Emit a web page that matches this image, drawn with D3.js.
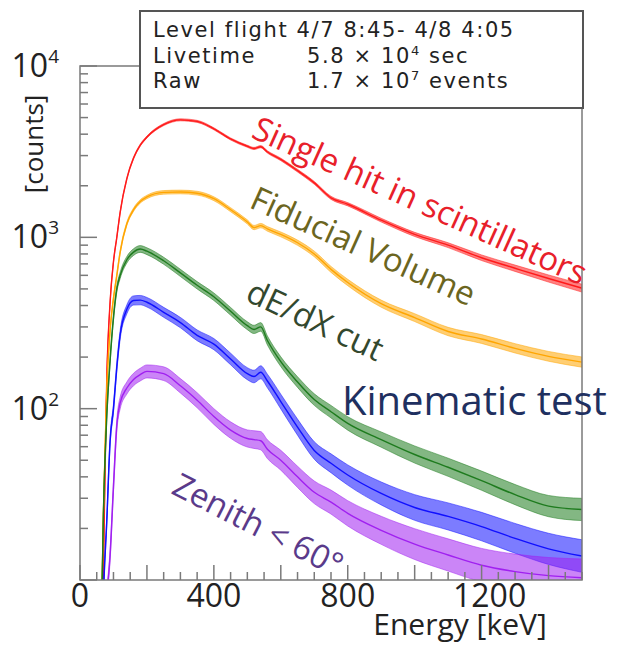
<!DOCTYPE html>
<html>
<head>
<meta charset="utf-8">
<script src="https://cdn.jsdelivr.net/npm/d3@7"></script>
<style>
body { margin: 0; background: #fff; }
svg text { font-family: "Open Sans", sans-serif; }
</style>
</head>
<body>
<div id="chart"></div>
<script>
// energy bins [keV] shared by all spectra
var energies = [60, 70, 80, 90, 100, 110, 120, 140, 160, 180, 200, 250, 300, 350, 400, 450, 500, 520, 540, 560, 600, 650, 700, 750, 800, 900, 1000, 1100, 1200, 1300, 1400, 1500];

// counts
var singleHit = [2, 12, 150, 420, 720, 1000, 1400, 2200, 2900, 3450, 3850, 4550, 4850, 4750, 4300, 3750, 3400, 3300, 3380, 3150, 2850, 2450, 2080, 1700, 1560, 1260, 1040, 900, 760, 660, 575, 505];
var fiducial = [2, 25, 130, 288, 440, 600, 820, 1200, 1450, 1620, 1720, 1830, 1840, 1810, 1680, 1450, 1230, 1140, 1170, 1120, 1040, 930, 800, 650, 545, 410, 340, 282, 255, 225, 202, 187];
var dedxCut = [2, 25, 90, 192, 340, 500, 600, 740, 820, 855, 830, 730, 620, 525, 450, 370, 305, 290, 300, 250, 188, 143, 113, 96, 82, 66, 54, 45.5, 38, 31.5, 27, 25.8];
var kinematic = [1, 8, 22, 65, 100, 175, 270, 380, 428, 430, 418, 365, 318, 268, 238, 195, 160, 154, 163, 145, 110, 78, 57, 48, 41, 32, 26.5, 23.5, 20.5, 17.5, 15.2, 13.8];
var zenith = [0.5, 4, 8, 14, 35, 80, 108, 132, 148, 158, 165, 160, 136, 112, 90, 75, 67, 66, 65, 58, 50, 40, 32.5, 28.5, 24.5, 19.5, 16.2, 14, 12.2, 11.2, 10.6, 10.3];

// half width of the noisy band (decades) at a few energies
var noiseE = [0, 500, 1000, 1500];
var noiseSingle = [0.006, 0.006, 0.012, 0.023];
var noiseFid = [0.009, 0.012, 0.023, 0.03];
var noiseDedx = [0.018, 0.023, 0.05, 0.065];
var noiseKin = [0.023, 0.035, 0.075, 0.095];
var noiseZen = [0.03, 0.05, 0.09, 0.11];

var xTickLabels = [0, 400, 800, 1200];
var yTickLabels = [100, 1000, 10000];

var infoLines = [
    ["Level flight 4/7 8:45- 4/8 4:05"],
    ["Livetime", "5.8 \u00d7 10", "4", " sec"],
    ["Raw", "1.7 \u00d7 10", "7", " events"]
];

var series = [
    {name: "Single hit in scintillators", values: singleHit, noise: noiseSingle, color: "#ff1a1a"},
    {name: "Fiducial Volume", values: fiducial, noise: noiseFid, color: "#ffa500"},
    {name: "dE/dX cut", values: dedxCut, noise: noiseDedx, color: "#1e7b1e"},
    {name: "Kinematic test", values: kinematic, noise: noiseKin, color: "#1010ff"},
    {name: "Zenith < 60\u00b0", values: zenith, noise: noiseZen, color: "#a020f0"}
];

var width = 619, height = 646;
var margin = {top: 66, right: 37, bottom: 66, left: 80};
var plotW = width - margin.left - margin.right;
var plotH = height - margin.top - margin.bottom;

var svg = d3.select("#chart").append("svg")
    .attr("width", width)
    .attr("height", height);

var xScale = d3.scaleLinear().domain([0, 1500]).range([margin.left, margin.left + plotW]);
var yScale = d3.scaleLog().domain([10, 10000]).range([margin.top + plotH, margin.top]);

svg.append("clipPath").attr("id", "plotClip")
  .append("rect")
    .attr("x", margin.left).attr("y", margin.top)
    .attr("width", plotW).attr("height", plotH);

var plot = svg.append("g").attr("clip-path", "url(#plotClip)");

// draw each spectrum: a faint noisy band plus the centre line
series.forEach(function(s) {
    var noiseScale = d3.scaleLinear().domain(noiseE).range(s.noise);
    var pts = energies.map(function(e, i) {
        var n = Math.pow(10, noiseScale(e));
        return {e: e, v: s.values[i], lo: s.values[i] / n, hi: s.values[i] * n};
    });
    var area = d3.area()
        .x(function(d) { return xScale(d.e); })
        .y0(function(d) { return yScale(d.lo); })
        .y1(function(d) { return yScale(d.hi); })
        .curve(d3.curveMonotoneX);
    var line = d3.line()
        .x(function(d) { return xScale(d.e); })
        .y(function(d) { return yScale(d.v); })
        .curve(d3.curveMonotoneX);
    plot.append("path").datum(pts)
        .attr("d", area)
        .attr("fill", s.color)
        .attr("fill-opacity", 0.55)
        .attr("stroke", s.color)
        .attr("stroke-opacity", 0.5)
        .attr("stroke-width", 1);
    plot.append("path").datum(pts)
        .attr("d", line)
        .attr("fill", "none")
        .attr("stroke", s.color)
        .attr("stroke-width", 1.4);
});

// frame
var axisColor = "#7a7a7a";
svg.append("rect")
    .attr("x", margin.left).attr("y", margin.top)
    .attr("width", plotW).attr("height", plotH)
    .attr("fill", "none").attr("stroke", axisColor).attr("stroke-width", 1.5);

// x ticks, pointing up from the bottom axis
var xTicks = d3.range(0, 1501, 50);
svg.append("g").selectAll("line").data(xTicks).join("line")
    .attr("x1", function(d) { return xScale(d); })
    .attr("x2", function(d) { return xScale(d); })
    .attr("y1", margin.top + plotH)
    .attr("y2", function(d) { return margin.top + plotH - (d % 200 == 0 ? 15 : 8); })
    .attr("stroke", axisColor).attr("stroke-width", 1.5);

svg.append("g").selectAll("text").data(xTickLabels).join("text")
    .attr("x", function(d) { return xScale(d) + (d >= 1200 ? 8 : 0); })
    .attr("y", 607)
    .attr("text-anchor", "middle")
    .attr("font-size", 32)
    .attr("fill", "#222")
    .text(function(d) { return d; });

svg.append("text")
    .attr("x", 460).attr("y", 635)
    .attr("text-anchor", "middle")
    .attr("font-size", 30)
    .attr("fill", "#222")
    .text("Energy [keV]");

// y ticks, pointing right from the left axis
var yTicks = yScale.ticks();
svg.append("g").selectAll("line").data(yTicks).join("line")
    .attr("x1", margin.left)
    .attr("x2", function(d) {
        var major = Math.abs(Math.log10(d) - Math.round(Math.log10(d))) < 1e-6;
        return margin.left + (major ? 17 : 8);
    })
    .attr("y1", function(d) { return yScale(d); })
    .attr("y2", function(d) { return yScale(d); })
    .attr("stroke", axisColor).attr("stroke-width", 1.5);

var yLab = svg.append("g").selectAll("text").data(yTickLabels).join("text")
    .attr("x", 59)
    .attr("y", function(d) { return yScale(d) + 11; })
    .attr("text-anchor", "end")
    .attr("font-size", 32)
    .attr("fill", "#222");
yLab.append("tspan").text("10");
yLab.append("tspan")
    .attr("font-size", 19)
    .attr("dy", -14)
    .text(function(d) { return Math.round(Math.log10(d)); });

svg.append("text")
    .attr("transform", "translate(43,144) rotate(-90)")
    .attr("text-anchor", "middle")
    .attr("font-size", 26)
    .attr("fill", "#222")
    .text("[counts]");

// curve labels
var labels = [
    {text: series[0].name, x: 250, y: 137, angle: 24.2, size: 33, color: "#e8202a"},
    {text: series[1].name, x: 248, y: 207, angle: 24.3, size: 33, color: "#6b6520"},
    {text: series[2].name, x: 244, y: 300, angle: 25, size: 33, color: "#33482e"},
    {text: series[3].name, x: 342, y: 415, angle: 0, size: 40, color: "#1f3060"},
    {text: series[4].name, x: 170, y: 493, angle: 27, size: 33, color: "#5a3a8a"}
];
svg.append("g").selectAll("text").data(labels).join("text")
    .attr("transform", function(d) { return "translate(" + d.x + "," + d.y + ") rotate(" + d.angle + ")"; })
    .attr("font-size", function(d) { return d.size; })
    .attr("fill", function(d) { return d.color; })
    .text(function(d) { return d.text; });

// info box
svg.append("rect")
    .attr("x", 140).attr("y", 11)
    .attr("width", 443).attr("height", 97)
    .attr("fill", "#fff")
    .attr("stroke", "#555").attr("stroke-width", 2);

var info = svg.append("g").attr("fill", "#222");
infoLines.forEach(function(l, i) {
    var yy = 37 + i * 25.5;
    info.append("text").attr("x", 153).attr("y", yy)
        .style("font-family", "DejaVu Sans").style("font-size", "21px").style("letter-spacing", "1.6px")
        .text(l[0]);
    if (l.length > 1) {
        var t = info.append("text").attr("x", 307).attr("y", yy)
            .style("font-family", "DejaVu Sans").style("font-size", "21px").style("letter-spacing", "1.6px");
        t.append("tspan").text(l[1]);
        t.append("tspan").style("font-size", "13px").attr("dy", -8).text(l[2]);
        t.append("tspan").attr("dy", 8).text(l[3]);
    }
});
</script>
</body>
</html>
